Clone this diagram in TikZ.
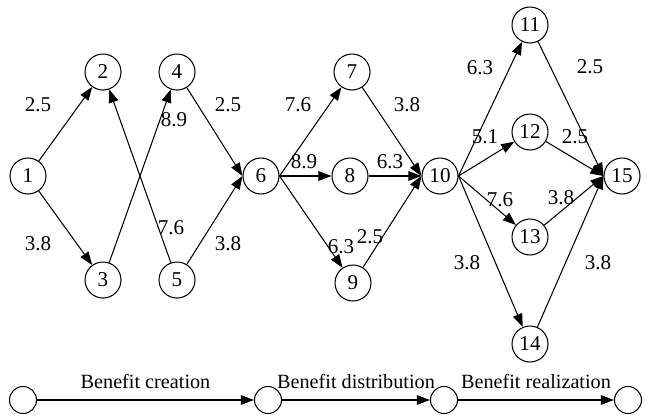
\documentclass[tikz,border=0pt]{standalone}
\usepackage{fontspec}
\setmainfont{Liberation Serif}
\usetikzlibrary{arrows.meta}

\tikzset{
	state/.style={draw,circle,line width=0.6pt,minimum size=0.72cm,inner sep=0pt,font=\fontsize{12}{14}\selectfont},
	phase/.style={draw,circle,line width=0.6pt,minimum size=0.54cm,inner sep=0pt},
	arr/.style={line width=0.6pt,-{Triangle[length=7.5pt,width=5.5pt]}},
	lbl/.style={inner sep=0pt,font=\fontsize{12}{14}\selectfont},
	stage/.style={inner sep=0pt,font=\fontsize{11.5}{13}\selectfont}
}

\begin{document}
\begin{tikzpicture}[x=0.02cm,y=-0.02cm]
	\useasboundingbox (0,0) rectangle (646,416);
	% activity nodes
	\foreach \n/\x/\y in {1/28/176, 2/103/72, 3/103/280, 4/177/72, 5/177/280,
		6/261/176, 7/352/72, 8/350/176, 9/353/283, 10/440/176,
		11/530/25, 12/530/132, 13/530/237, 14/530/344, 15/622/176}
		\node[state] (n\n) at (\x,\y) {\n};
	% arcs with their weights
	\foreach \s/\t/\w/\lx/\ly in {n1/n2/2.5/38/105, n1/n3/3.8/38/244,
		n3/n4/8.9/174/120, n5/n2/7.6/171/228,
		n4/n6.west/2.5/228/105, n5/n6.west/3.8/228/244,
		n6.east/n7/7.6/298/105, n6.east/n8/8.9/304/162, n6.east/n9/6.3/341/247,
		n7/n10.west/3.8/407/105, n8/n10.west/6.3/390/162, n9/n10.west/2.5/370/237,
		n10.east/n11/6.3/480/68, n10.east/n12/5.1/485/137,
		n10.east/n13/7.6/500/200, n10.east/n14/3.8/467/263,
		n11/n15.west/2.5/590/67, n12/n15.west/2.5/575/137,
		n13/n15.west/3.8/561/198, n14/n15.west/3.8/598/263}
	{
		\draw[arr] (\s) -- (\t);
		\node[lbl] at (\lx,\ly) {\w};
	}
	% phases along the bottom
	\node[phase] (p1) at (23,400) {};
	\node[phase] (p2) at (268,400) {};
	\node[phase] (p3) at (444,400) {};
	\node[phase] (p4) at (628,400) {};
	\draw[arr] (p1) -- node[stage,above=6pt] (c1) {Benefit creation} (p2);
	\draw[arr] (p2) -- node[stage,above=6pt] (c2) {Benefit distribution} (p3);
	\draw[arr] (p3) -- node[stage,above=6pt] (c3) {Benefit realization} (p4);
\end{tikzpicture}
\end{document}
